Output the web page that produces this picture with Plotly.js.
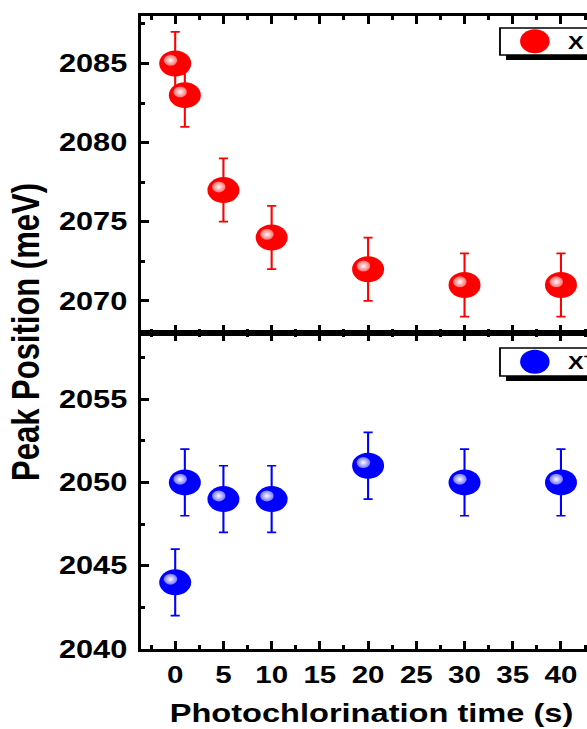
<!DOCTYPE html>
<html>
<head>
<meta charset="utf-8">
<script src="https://cdn.plot.ly/plotly-3.0.1.min.js"></script>
<style>
  html, body { margin:0; padding:0; background:#fff; width:587px; height:729px; overflow:hidden; }
  #plot { width:520px; height:729px; transform: scaleX(1.23); transform-origin: 0 0; }
</style>
</head>
<body>
<div id="plot"></div>
<script>
// ---- data ----
const times   = [0, 1, 5, 10, 20, 30, 40];          // Photochlorination time (s)
const peakX   = [2085, 2083, 2077, 2074, 2072, 2071, 2071];   // X (meV)
const errX    = [2, 2, 2, 2, 2, 2, 2];
const peakXm  = [2044, 2050, 2049, 2049, 2051, 2050, 2050];   // X- (meV)
const errXm   = [2, 2, 2, 2, 2, 2, 2];
const nameX   = 'X';
const nameXm  = 'X<sup>\u2212</sup>';
const xTitle  = 'Photochlorination time (s)';
const yTitle  = 'Peak Position (meV)';

const FONT = 'Liberation Sans, Arial, Helvetica, sans-serif';
const RED = '#ff0000', BLUE = '#0000ff';

const xRange = [-3.5, 44.2];
const topRange = [2068, 2088];
const botRange = [2040, 2059];

function sphereTrace(y, err, color, xa, ya, name, legend) {
  return {
    x: times, y: y, type: 'scatter', mode: 'markers', name: name,
    xaxis: xa, yaxis: ya, legend: legend,
    marker: { size: 26, color: color, line: { width: 0 },
              gradient: { type: 'radial', color: color } },
    error_y: { type: 'data', array: err, visible: true, color: color, thickness: 1.7, width: 3.7 }
  };
}
function highlightTrace(y, edge, xa, ya) {
  return {
    x: times, y: y, type: 'scatter', mode: 'markers', showlegend: false,
    xaxis: xa, yaxis: ya, hoverinfo: 'skip',
    marker: { size: 11, color: edge, line: { width: 0 },
              gradient: { type: 'radial', color: '#ffffff' } }
  };
}

const data = [
  sphereTrace(peakX, errX, RED, 'x', 'y', nameX, 'legend'),
  sphereTrace(peakXm, errXm, BLUE, 'x2', 'y2', nameXm, 'legend2'),
  highlightTrace(peakX, 'rgba(255,120,120,0.9)', 'x3', 'y3'),
  highlightTrace(peakXm, 'rgba(130,130,255,0.9)', 'x4', 'y4')
];

const tickFontY = { family: FONT, size: 25, color: '#000', weight: 'bold' };
const tickFontX = { family: FONT, size: 24, color: '#000', weight: 'bold' };

function xAxisBase(showLabels) {
  return {
    range: xRange, domain: [0, 1], showgrid: false, zeroline: false,
    showline: true, linewidth: 3, linecolor: '#000', mirror: 'ticks',
    ticks: 'inside', ticklen: 8, tickwidth: 2.4, tickcolor: '#000',
    tick0: 0, dtick: 5, showticklabels: showLabels, tickfont: tickFontX, ticklabelstandoff: 2,
    minor: { dtick: 2.5, ticks: 'inside', ticklen: 4, tickwidth: 2.4, tickcolor: '#000' }
  };
}
function yAxisBase(range, dom, t0) {
  return {
    range: range, domain: dom, showgrid: false, zeroline: false,
    showline: true, linewidth: 2.5, linecolor: '#000', mirror: 'ticks',
    ticks: 'inside', ticklen: 6, tickwidth: 3, tickcolor: '#000',
    tick0: t0, dtick: 5, tickfont: tickFontY, ticklabelstandoff: 4,
    minor: { dtick: 2.5, ticks: 'inside', ticklen: 3, tickwidth: 3, tickcolor: '#000' }
  };
}

// highlight offset (pixels) -> range shift
const plotWpx = 520 - 115 - 31;
const xShift = 3.8 * (xRange[1] - xRange[0]) / plotWpx;
const hTop = (729 - 16 - 80) / 2;
const legFont = { family: FONT, size: 19, color: '#000', weight: 'bold' };

const layout = {
  width: 520, height: 729,
  margin: { l: 115, r: 31, t: 16, b: 80 },
  paper_bgcolor: '#fff', plot_bgcolor: 'rgba(0,0,0,0)',
  font: { family: FONT, color: '#000' },
  xaxis: Object.assign(xAxisBase(false), { anchor: 'y' }),
  yaxis: yAxisBase(topRange, [0.5, 1], 2070),
  xaxis2: Object.assign(xAxisBase(true), { anchor: 'y2',
    title: { text: xTitle, font: { family: FONT, size: 26.5, color: '#000', weight: 'bold' }, standoff: 17 } }),
  yaxis2: yAxisBase(botRange, [0, 0.5], 2040),
  xaxis3: { overlaying: 'x', visible: false, range: [xRange[0] + xShift, xRange[1] + xShift] },
  yaxis3: { overlaying: 'y', visible: false,
            range: [topRange[0] - 3.2 * (topRange[1] - topRange[0]) / hTop, topRange[1] - 3.2 * (topRange[1] - topRange[0]) / hTop] },
  xaxis4: { overlaying: 'x2', visible: false, range: [xRange[0] + xShift, xRange[1] + xShift] },
  yaxis4: { overlaying: 'y2', visible: false,
            range: [botRange[0] - 3.2 * (botRange[1] - botRange[0]) / hTop, botRange[1] - 3.2 * (botRange[1] - botRange[0]) / hTop] },
  legend: { x: 0.783, y: 0.9597, xanchor: 'left', yanchor: 'middle', bgcolor: 'rgba(0,0,0,0)',
            borderwidth: 0, itemwidth: 44, font: legFont },
  legend2: { x: 0.783, y: 0.4534, xanchor: 'left', yanchor: 'middle', bgcolor: 'rgba(0,0,0,0)',
            borderwidth: 0, itemwidth: 44, font: legFont },
  shapes: [
    // drop shadows
    { type: 'rect', xref: 'paper', yref: 'paper', x0: 0.7925, x1: 1.3, y0: 0.9305, y1: 0.95,
      fillcolor: '#000', line: { width: 0 }, layer: 'above' },
    { type: 'rect', xref: 'paper', yref: 'paper', x0: 0.7925, x1: 1.3, y0: 0.4234, y1: 0.44,
      fillcolor: '#000', line: { width: 0 }, layer: 'above' },
    // legend boxes
    { type: 'rect', xref: 'paper', yref: 'paper', x0: 0.7794, x1: 1.3, y0: 0.9384, y1: 0.981,
      fillcolor: '#fff', line: { width: 1.5, color: '#000' }, layer: 'above' },
    { type: 'rect', xref: 'paper', yref: 'paper', x0: 0.7794, x1: 1.3, y0: 0.4313, y1: 0.4755,
      fillcolor: '#fff', line: { width: 1.5, color: '#000' }, layer: 'above' }
  ],
  annotations: [
    { text: yTitle, xref: 'paper', yref: 'paper', x: -0.25, y: 0.5, xanchor: 'center', yanchor: 'middle',
      textangle: -90, showarrow: false, font: { family: FONT, size: 31, color: '#000', weight: 'bold' } }
  ]
};

Plotly.newPlot('plot', data, layout, { staticPlot: true, displayModeBar: false }).then(function (gd) {
  // enlarge the legend spheres (the legend caps symbol size at 16 px)
  gd.querySelectorAll('.legendpoints path').forEach(function (p) {
    const t = p.getAttribute('transform') || '';
    p.setAttribute('transform', t + ' scale(1.5)');
  });
});
</script>
</body>
</html>
